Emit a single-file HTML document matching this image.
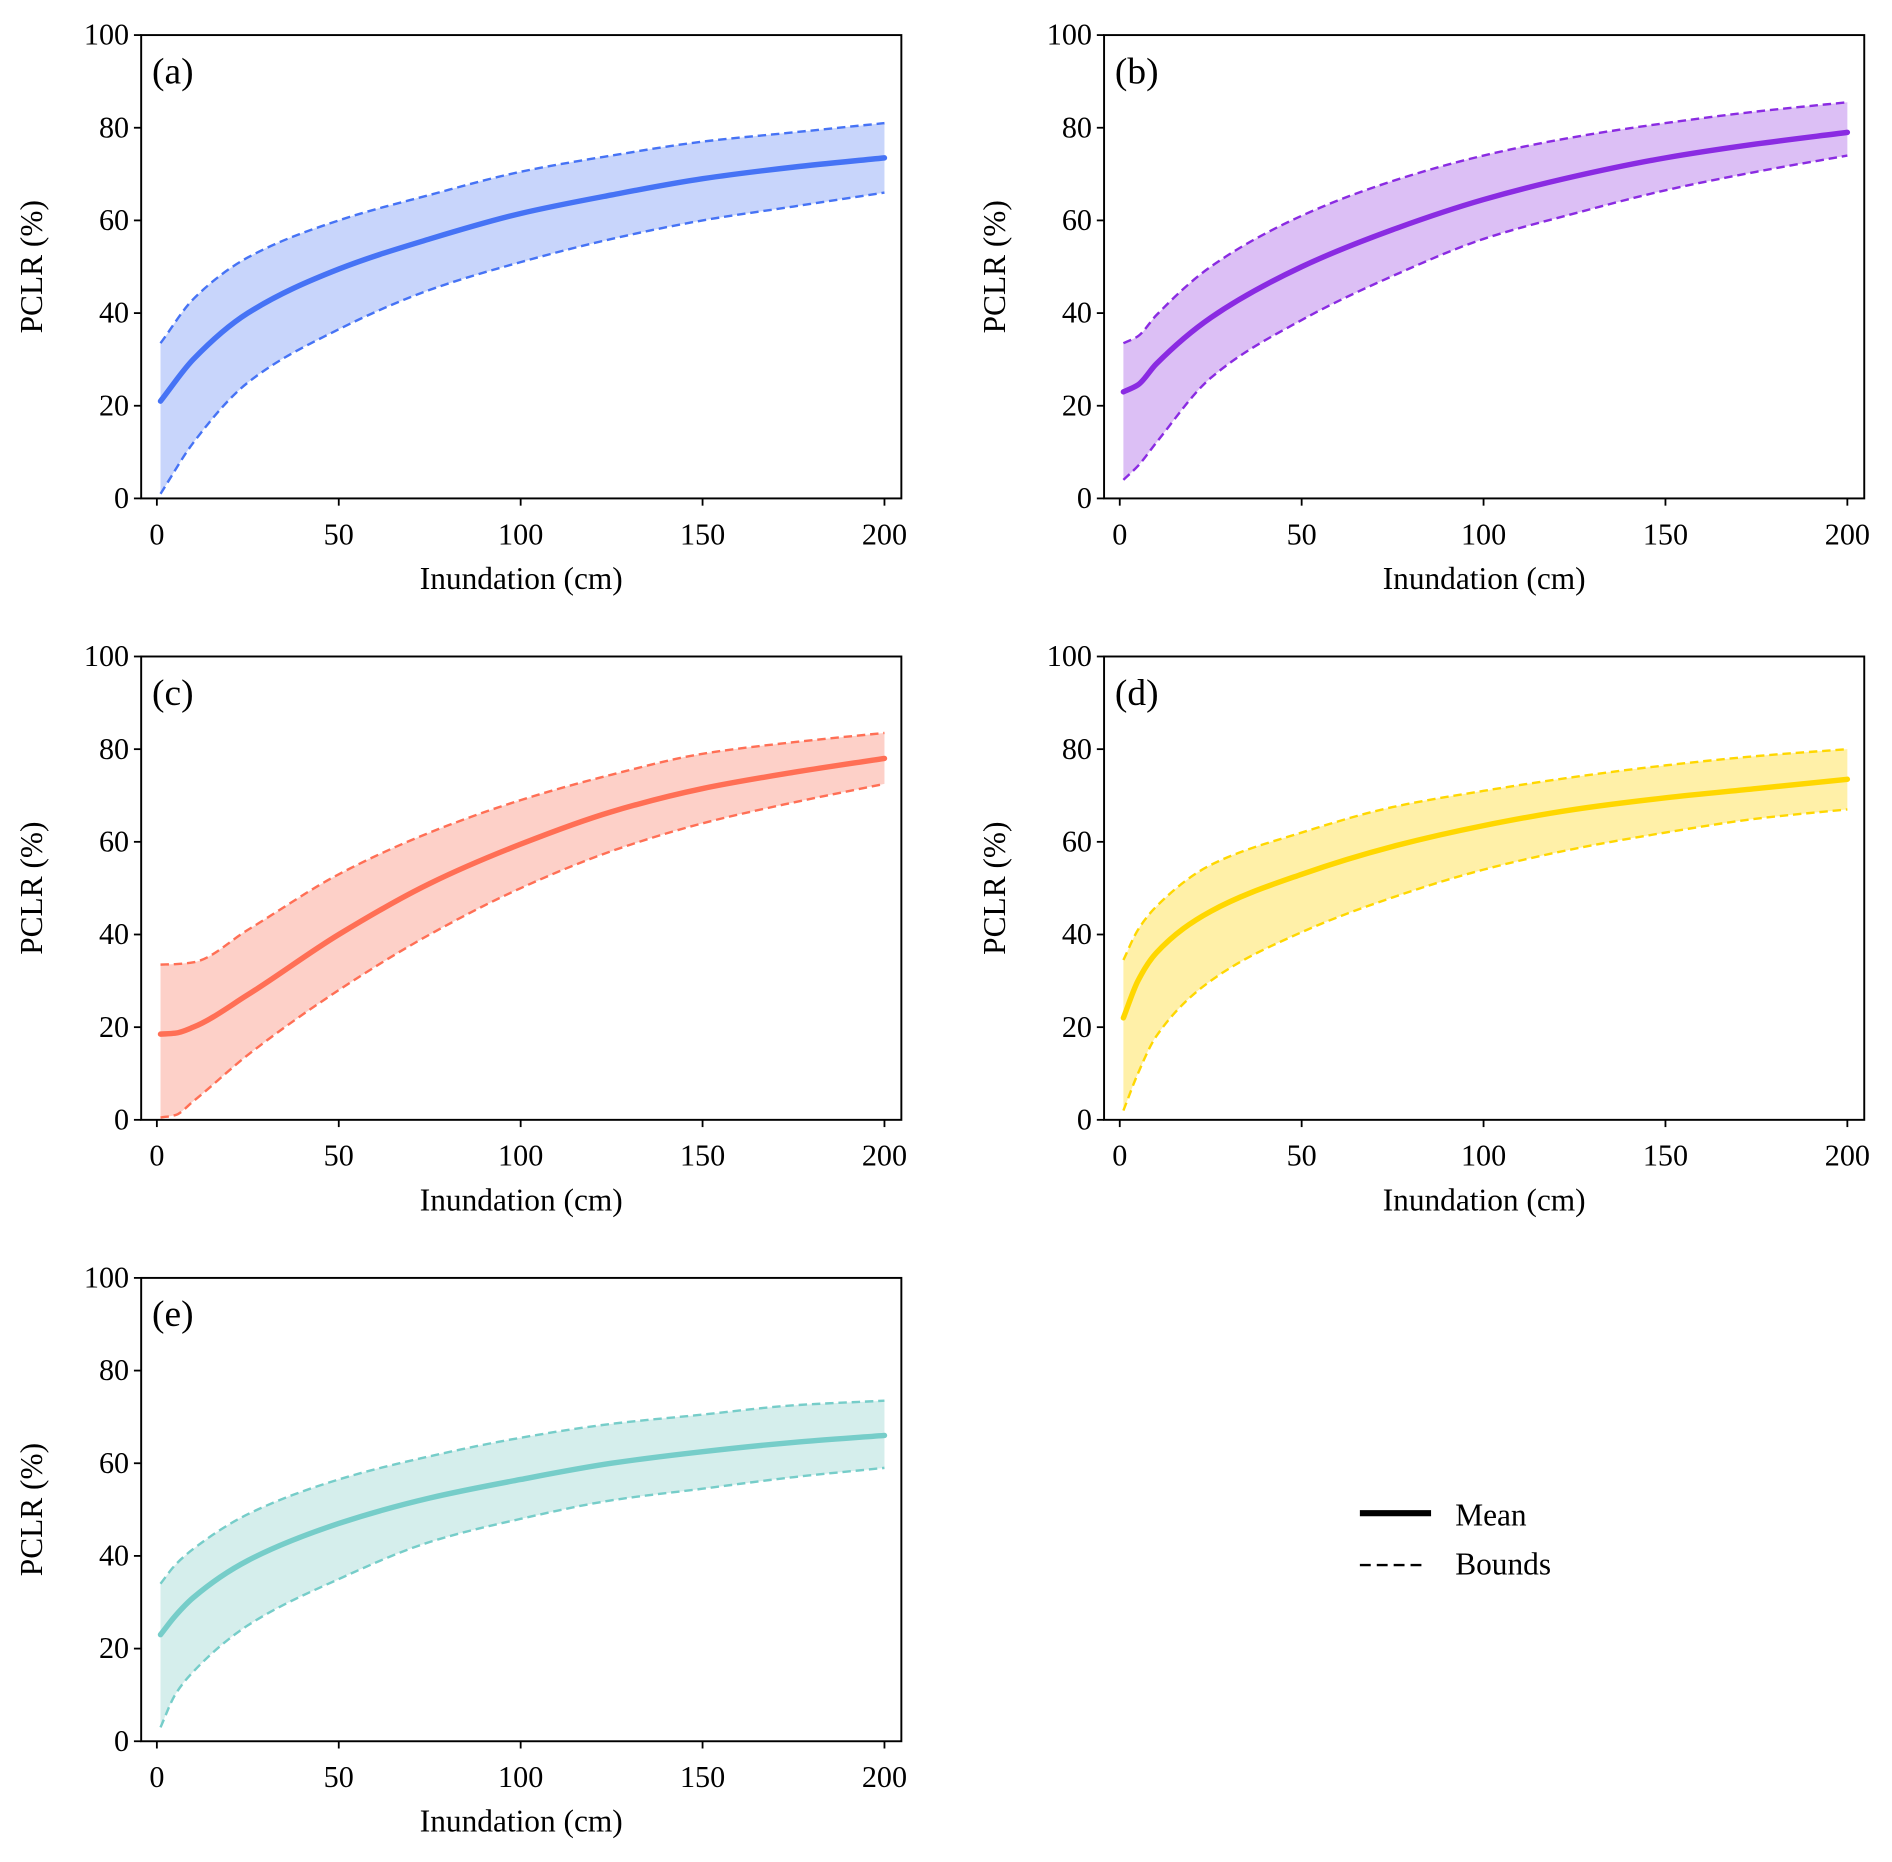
<!DOCTYPE html>
<html><head><meta charset="utf-8">
<style>
html,body{margin:0;padding:0;background:#fff;}
svg{display:block;}
text{font-family:"Liberation Serif",serif;fill:#000;}
</style></head>
<body>
<svg id="fig" width="1892" height="1862" viewBox="0 0 1568 1543" xmlns="http://www.w3.org/2000/svg"></svg>
<script>
const xTicks=[0,50,100,150,200];
const yTicks=[0,20,40,60,80,100];
const panelLabels=["(a)","(b)","(c)","(d)","(e)"];
const xsA=[1,10,25,50,75,100,125,150,175,200];
const meanA=[21,30,40,49.5,56,61.5,65.5,69,71.5,73.5];
const upA=[33.5,43,52,60,65.5,70.5,74,77,79,81];
const loA=[1,12,25,36.5,45,51,56,60,63,66];
const xsB=[1,5,10,25,50,75,100,125,150,175,200];
const meanB=[23,24.5,29,39,50,58,64.5,69.5,73.5,76.5,79];
const upB=[33.5,35,39.5,50,61,68.5,74,78,81,83.5,85.5];
const loB=[4,7,12,26,38.5,48,56,61.5,66.5,70.5,74];
const xsC=[1,5,10,25,50,75,100,125,150,175,200];
const meanC=[18.5,18.7,20,27,40,51,59.5,66.5,71.5,75,78];
const upC=[33.5,33.6,34,41,53,62,69,74.5,79,81.5,83.5];
const loC=[0.5,1,4,14,28,40,50,58,64,68.5,72.5];
const xsD=[1,5,10,25,50,75,100,125,150,175,200];
const meanD=[22,30,36,45,53,59,63.5,67,69.5,71.5,73.5];
const upD=[34.5,41,46,55,62,67.5,71,74,76.5,78.5,80];
const loD=[2,10,18,30,40.5,48,54,58.5,62,65,67];
const xsE=[1,5,10,25,50,75,100,125,150,175,200];
const meanE=[23,27,31,39,47,52.5,56.5,60,62.5,64.5,66];
const upE=[34,38,41.5,49,56.5,61.5,65.5,68.5,70.5,72.5,73.5];
const loE=[3,10,15,25,35,43,48,52,54.5,57,59];

const NS="http://www.w3.org/2000/svg";
const svg=document.getElementById('fig');
function mk(tag,attrs,parent){const e=document.createElementNS(NS,tag);for(const k in attrs)e.setAttribute(k,attrs[k]);(parent||svg).appendChild(e);return e;}

const panels=[
 {xs:xsA,m:meanA,u:upA,l:loA,left:117,top:29,line:"#4673f5",fill:"#c8d5fb"},
 {xs:xsB,m:meanB,u:upB,l:loB,left:915,top:29,line:"#8a2be2",fill:"#dcbff5"},
 {xs:xsC,m:meanC,u:upC,l:loC,left:117,top:544,line:"#ff6f55",fill:"#fdd0c8"},
 {xs:xsD,m:meanD,u:upD,l:loD,left:915,top:544,line:"#ffd700",fill:"#fff0a8"},
 {xs:xsE,m:meanE,u:upE,l:loE,left:117,top:1059,line:"#76cdc9",fill:"#d5eeec"}
];
const W=630,H=384;

// monotone cubic (Fritsch-Carlson) in pixel space; pts sorted by x ascending
function monoSegs(pts){
  const n=pts.length,dx=[],dy=[],s=[];
  for(let i=0;i<n-1;i++){dx[i]=pts[i+1][0]-pts[i][0];dy[i]=pts[i+1][1]-pts[i][1];s[i]=dy[i]/dx[i];}
  const m=[s[0]];
  for(let i=1;i<n-1;i++){
    if(s[i-1]*s[i]<=0)m[i]=0;
    else{const w1=2*dx[i]+dx[i-1],w2=dx[i]+2*dx[i-1];m[i]=(w1+w2)/(w1/s[i-1]+w2/s[i]);}
  }
  m[n-1]=s[n-2];
  const segs=[];
  for(let i=0;i<n-1;i++){
    const h=dx[i];
    segs.push([[pts[i][0]+h/3,pts[i][1]+m[i]*h/3],[pts[i+1][0]-h/3,pts[i+1][1]-m[i+1]*h/3],pts[i+1]]);
  }
  return segs;
}
function pathFwd(pts){
  let d="M"+pts[0][0]+","+pts[0][1];
  monoSegs(pts).forEach(sg=>{d+=" C"+sg[0].join(",")+" "+sg[1].join(",")+" "+sg[2].join(",");});
  return d;
}
function pathRevCont(pts){
  const segs=monoSegs(pts);let d=" L"+pts[pts.length-1][0]+","+pts[pts.length-1][1];
  for(let i=segs.length-1;i>=0;i--){d+=" C"+segs[i][1].join(",")+" "+segs[i][0].join(",")+" "+pts[i].join(",");}
  return d;
}

panels.forEach((p,idx)=>{
  const g=mk('g',{});
  
  
  const x0=p.left+13, xs=(603)/200;
  const X=v=>x0+v*xs;
  const Y=v=>p.top+H-v*H/100;
  const up=p.xs.map((x,i)=>[X(x),Y(p.u[i])]);
  const lo=p.xs.map((x,i)=>[X(x),Y(p.l[i])]);
  const mn=p.xs.map((x,i)=>[X(x),Y(p.m[i])]);
  const band=pathFwd(up)+pathRevCont(lo)+" Z";
  const f=mk('path',{d:band,fill:p.fill,stroke:"none"},g);
  
  
  const u=mk('path',{d:pathFwd(up),fill:"none",stroke:p.line,"stroke-width":2,"stroke-dasharray":"7,4"},g);
  
  
  const l=mk('path',{d:pathFwd(lo),fill:"none",stroke:p.line,"stroke-width":2,"stroke-dasharray":"7,4"},g);
  
  
  const m=mk('path',{d:pathFwd(mn),fill:"none",stroke:p.line,"stroke-width":4.5,"stroke-linecap":"round"},g);
  
  
  const fr=mk('rect',{x:p.left,y:p.top,width:W,height:H,fill:"none",stroke:"#000","stroke-width":1.6},g);
  
  
  xTicks.forEach(t=>{
    mk('line',{x1:X(t),x2:X(t),y1:p.top+H,y2:p.top+H+6,stroke:"#000","stroke-width":1.5},g);
    const tx=mk('text',{x:X(t),y:p.top+H+38,"text-anchor":"middle","font-size":25},g);
    tx.textContent=t;
    
    
  });
  yTicks.forEach(t=>{
    mk('line',{x1:p.left-6,x2:p.left,y1:Y(t),y2:Y(t),stroke:"#000","stroke-width":1.5},g);
    const ty=mk('text',{x:p.left-10,y:Y(t)+8,"text-anchor":"end","font-size":25},g);
    ty.textContent=t;
    
    
  });
  const xl=mk('text',{x:p.left+315,y:p.top+H+75,"text-anchor":"middle","font-size":26},g);
  xl.textContent="Inundation (cm)";
  
  
  const cy=p.top+H/2, cx=p.left-82;
  const yl=mk('text',{x:cx,y:cy,"text-anchor":"middle","font-size":26,transform:"rotate(-90 "+cx+" "+cy+")"},g);
  yl.textContent="PCLR (%)";
  
  
  const pl=mk('text',{x:p.left+9,y:p.top+40,"font-size":31},g);
  pl.textContent=panelLabels[idx];
  
  
});

const lg=mk('g',{});


mk('line',{x1:1127,x2:1186,y1:1254,y2:1254,stroke:"#000","stroke-width":5},lg);
const t1=mk('text',{x:1206,y:1264,"font-size":26},lg);t1.textContent="Mean";


mk('line',{x1:1127,x2:1182,y1:1297,y2:1297,stroke:"#000","stroke-width":2,"stroke-dasharray":"9,5"},lg);
const t2=mk('text',{x:1206,y:1305,"font-size":26},lg);t2.textContent="Bounds";


</script>
</body></html>
